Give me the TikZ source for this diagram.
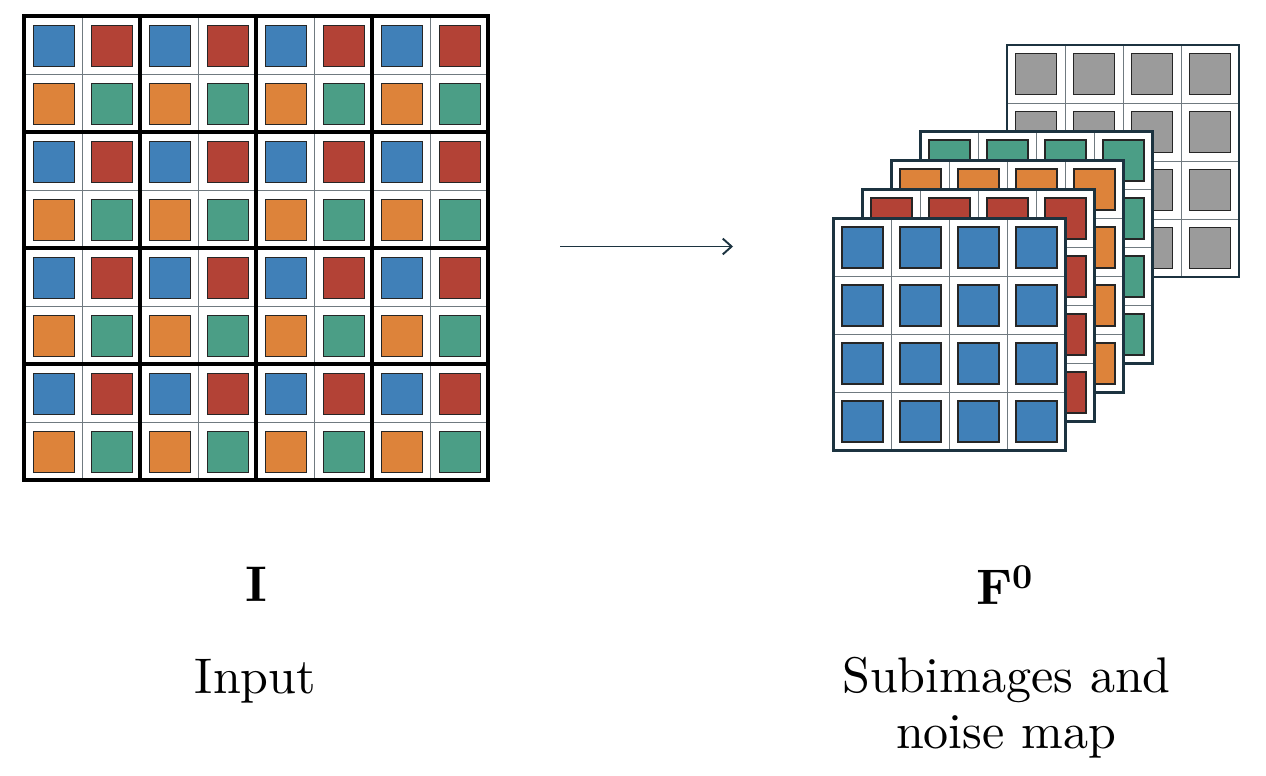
\documentclass[tikz,border=0pt]{standalone}
\usepackage{fontspec}
\setmainfont{lmroman10-regular.otf}[BoldFont=lmroman10-bold.otf,ItalicFont=lmroman10-italic.otf]
\usetikzlibrary{arrows.meta}
\definecolor{cblue}{HTML}{4080B8}
\definecolor{cred}{HTML}{B34236}
\definecolor{corange}{HTML}{DD833A}
\definecolor{cgreen}{HTML}{4B9E86}
\definecolor{cgray}{HTML}{9B9B9B}
\definecolor{frame}{HTML}{1C3340}
\definecolor{thinline}{HTML}{707A80}
\begin{document}
\begin{tikzpicture}[x=0.02cm,y=-0.02cm,
  pix/.style={draw=black!85,line width=0.8pt},
  cellline/.style={draw=thinline,line width=0.55pt},
  blockline/.style={draw=black,line width=2pt},
  layerframe/.style={draw=frame,line width=1.4pt},
  lbl/.style={font=\fontsize{28.5}{32}\selectfont,anchor=base,inner sep=0pt}]
\useasboundingbox (0,0) rectangle (1266,776);

% ---- input mosaic: 8x8 cells, 2x2 colour blocks ----
\fill[white] (24,16) rectangle (488,480);
\foreach \bx in {0,...,3}{
  \foreach \by in {0,...,3}{
    \pgfmathsetmacro\X{24+116*\bx}
    \pgfmathsetmacro\Y{16+116*\by}
    \filldraw[pix,fill=cblue]   (\X+9.5,\Y+9.5)   rectangle ++(41,41);
    \filldraw[pix,fill=cred]    (\X+67.5,\Y+9.5)  rectangle ++(41,41);
    \filldraw[pix,fill=corange] (\X+9.5,\Y+67.5)  rectangle ++(41,41);
    \filldraw[pix,fill=cgreen]  (\X+67.5,\Y+67.5) rectangle ++(41,41);
  }
}
\foreach \k in {1,3,5,7}{
  \draw[cellline] (24+58*\k,16) -- (24+58*\k,480);
  \draw[cellline] (24,16+58*\k) -- (488,16+58*\k);
}
\foreach \k in {2,4,6}{
  \draw[blockline] (24+58*\k,16) -- (24+58*\k,480);
  \draw[blockline] (24,16+58*\k) -- (488,16+58*\k);
}
\draw[blockline,line width=2.2pt] (24,16) rectangle (488,480);

% ---- stacked subimages, back to front ----
\foreach \ox/\oy/\col in {1007/45/cgray, 920.5/131.5/cgreen, 891.5/160.5/corange, 862.5/189.5/cred, 833.5/218.5/cblue}{
  \fill[white] (\ox,\oy) rectangle ++(232,232);
  \foreach \i in {0,...,3}{
    \foreach \j in {0,...,3}{
      \filldraw[pix,fill=\col] (\ox+58*\i+8.5,\oy+58*\j+8.5) rectangle ++(41,41);
    }
  }
  \foreach \k in {1,2,3}{
    \draw[cellline] (\ox+58*\k,\oy) -- (\ox+58*\k,\oy+232);
    \draw[cellline] (\ox,\oy+58*\k) -- (\ox+232,\oy+58*\k);
  }
  \draw[layerframe] (\ox,\oy) rectangle ++(232,232);
}

% ---- mapping arrow ----
\coordinate (arrA) at (560,246.5);
\coordinate (arrB) at (733,246.5);
\draw[frame,line width=1.1pt,-{Straight Barb[length=5pt,width=9pt]}] (arrA) -- (arrB);

% ---- labels ----
\node[lbl] (symI) at (256,601) {$\mathbf{I}$};
\node[lbl] (txtI) at (255.5,693) {Input};
\node[lbl] (symF) at (1005,604) {$\mathbf{F^0}$};
\node[lbl] (txtF1) at (1006.5,692) {Subimages and};
\node[lbl] (txtF2) at (1006,748) {noise map};
\end{tikzpicture}
\end{document}
